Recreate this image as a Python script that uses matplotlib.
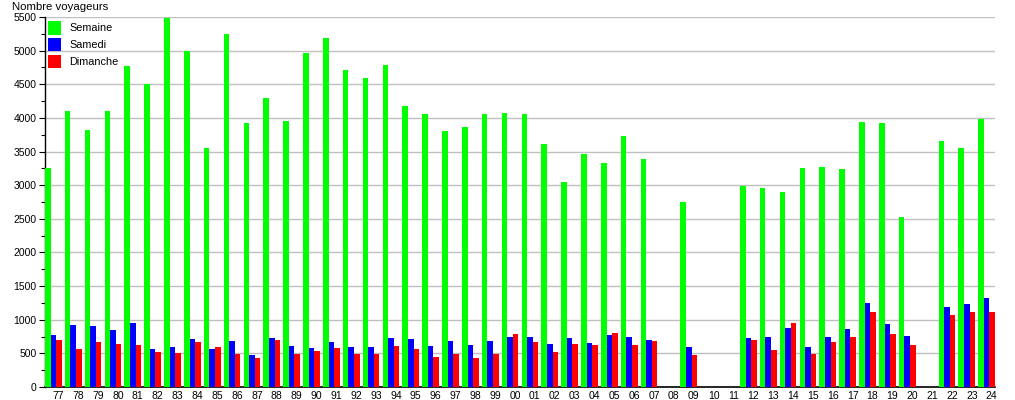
import matplotlib
matplotlib.use("Agg")
import matplotlib.pyplot as plt
import numpy as np

years = ["77","78","79","80","81","82","83","84","85","86","87","88","89","90","91","92",
         "93","94","95","96","97","98","99","00","01","02","03","04","05","06","07","08",
         "09","10","11","12","13","14","15","16","17","18","19","20","21","22","23","24"]

semaine = [3250, 4100, 3820, 4100, 4770, 4500, 5480, 5000, 3560, 5250, 3930, 4300, 3950, 4970, 5190, 4710,
           4590, 4780, 4180, 4060, 3800, 3860, 4060, 4080, 4060, 3610, 3050, 3460, 3330, 3730, 3390, 0,
           2750, 0, 0, 2990, 2960, 2900, 3260, 3270, 3240, 3940, 3920, 2520, 0, 3650, 3560, 3980]

samedi = [780, 920, 900, 840, 945, 570, 600, 720, 570, 690, 480, 735, 615, 585, 675, 600,
          600, 735, 720, 615, 690, 630, 690, 750, 750, 645, 735, 660, 780, 750, 705, 0,
          600, 0, 0, 735, 750, 870, 600, 750, 855, 1245, 930, 765, 0, 1185, 1230, 1320]

dimanche = [705, 570, 665, 645, 630, 525, 510, 665, 600, 495, 435, 705, 485, 540, 585, 485,
            495, 615, 570, 450, 485, 435, 495, 795, 675, 525, 645, 630, 810, 630, 690, 0,
            480, 0, 0, 705, 555, 945, 495, 675, 750, 1110, 795, 630, 0, 1065, 1110, 1110]

series_names = ["Semaine", "Samedi", "Dimanche"]
colors = ["#00ff00", "#0000ff", "#ff0000"]

plt.rcParams['font.family'] = ['Liberation Sans', 'DejaVu Sans']

fig = plt.figure(figsize=(10.15, 4.0), dpi=100)
ax = fig.add_axes([45/1015, 13/400, 950/1015, 370/400])

x = np.arange(len(years))
bw = 0.28
for k, (vals, name, col) in enumerate(zip([semaine, samedi, dimanche], series_names, colors)):
    ax.bar(x + k*bw, vals, width=bw, align='edge', color=col, label=name, linewidth=0, zorder=3)

ax.set_xlim(0, len(years) - 1 + 3*bw)
ax.set_ylim(0, 5500)
ax.set_yticks(np.arange(0, 5501, 500))
ax.set_yticks(np.arange(0, 5501, 250), minor=True)
ax.set_xticks(x + 0.67)
ax.set_xticklabels(years)
ax.yaxis.grid(True, color="#c0c0c0", linewidth=1, zorder=0)
ax.set_axisbelow(True)
for s in ["top", "right"]:
    ax.spines[s].set_visible(False)
ax.spines["left"].set_linewidth(1)
ax.spines["bottom"].set_linewidth(1.2)
ax.tick_params(axis='y', which='major', length=4, width=0.8, labelsize=7.5, pad=2)
ax.tick_params(axis='y', which='minor', length=3, width=0.8)
ax.tick_params(axis='x', length=0, labelsize=7.5, pad=3)

fig.text(12/1015, 1 - 7/400, "Nombre voyageurs", fontsize=8.2, va='center', ha='left')

leg = ax.legend(loc='upper left', bbox_to_anchor=(48/1015, 1 - 21/400), bbox_transform=fig.transFigure,
                frameon=False, borderpad=0, borderaxespad=0, fontsize=7.8,
                handlelength=1.2, handleheight=1.55, handletextpad=0.75, labelspacing=0.3)

fig.savefig("out.png", dpi=100)
